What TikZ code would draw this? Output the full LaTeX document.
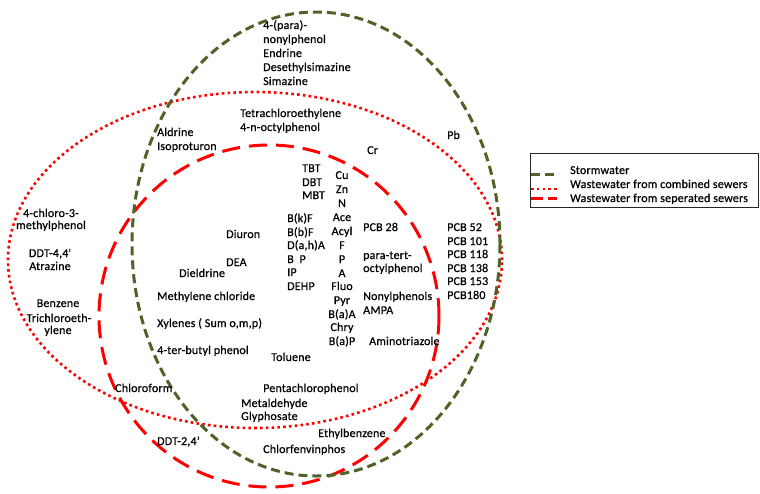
\documentclass[tikz,border=0pt]{standalone}
\usepackage{fontspec}
\setmainfont{Carlito}
\newfontfamily\lblfont{Carlito}[FakeBold=0.7,LetterSpace=1.5]
\definecolor{storm}{HTML}{4F6228}
\definecolor{wred}{HTML}{FF0000}
\begin{document}
\begin{tikzpicture}[x=1pt,y=-1pt,
  lbl/.style={anchor=base west,inner sep=0pt,font=\lblfont\fontsize{12}{13}\selectfont},
  clbl/.style={anchor=base,inner sep=0pt,font=\lblfont\fontsize{12}{13}\selectfont},
  stormline/.style={draw=storm,line width=3pt,dash pattern=on 9pt off 5pt},
  combline/.style={draw=wred,line width=2.6pt,dash pattern=on 2.6pt off 3.2pt},
  sepline/.style={draw=wred,line width=3pt,dash pattern=on 18pt off 9pt}]
\useasboundingbox (0,0) rectangle (760,493);
% sets
\draw[combline] (255,260) ellipse [x radius=247pt, y radius=168pt];
\draw[sepline] (269,316) ellipse [x radius=170pt, y radius=171pt];
\draw[stormline] (316,244) ellipse [x radius=184pt, y radius=232pt];
% left-aligned labels (x, y = line centre)
\foreach \n/\x/\y/\t in {
  a1/263/25/4-(para)-, a2/263/39/nonylphenol, a3/263/53/Endrine, a4/263/67/Desethylsimazine, a5/263/81/Simazine,
  b1/240/113/Tetrachloroethylene, b2/240/127/4-n-octylphenol,
  c1/157/132/Aldrine, c2/157/146/Isoproturon,
  pb/447/135/Pb, cr/367/150/Cr,
  t1/302/168/TBT, t2/302/182/DBT, t3/302/195/MBT,
  k1/287/218/B(k)F, k2/287/232/B(b)F, k3/287/245/{D(a,h)A}, k4/287/259/B\ \ P, k5/287/272/IP, k6/287/286/DEHP,
  di/226/234/Diuron, de/226/262/DEA, dl/179/273/Dieldrine,
  me/157/296/Methylene chloride, xy/157/323/{Xylenes ( Sum o,m,p)}, tb/157/350/4-ter-butyl phenol,
  to/271/357/Toluene,
  p28/363/227/PCB 28, pt1/363/255/para-tert-, pt2/363/268/octylphenol,
  np/363/296/Nonylphenols, am/363/310/AMPA, at/369/341/Aminotriazole,
  q1/447/227/PCB 52, q2/447/241/PCB 101, q3/447/254/PCB 118, q4/447/268/PCB 138, q5/447/281/PCB 153, q6/447/295/PCB180,
  cf/115/388/Chloroform, pc/263/388/Pentachlorophenol,
  md/241/403/Metaldehyde, gl/241/416/Glyphosate,
  eb/318/433/Ethylbenzene, dd/157/441/{DDT-2,4’}, cv/263/449/Chlorfenvinphos}
  \node[lbl] (\n) at (\x,\y+4) {\t};
% centred labels
\foreach \n/\x/\y/\t in {
  m1/342/175/Cu, m2/342/189/Zn, m3/342/203/N, m4/342/217/Ace, m5/342/231/Acyl, m6/342/245/F, m7/342/259/P,
  m8/342/273/A, m9/342/286/Fluo, m10/342/300/Pyr, m11/342/314/B(a)A, m12/342/327/Chry, m13/342/341/B(a)P,
  l1/51/213/4-chloro-3-, l2/51/225/methylphenol, l3/50/253/{DDT-4,4\textquotesingle}, l4/50/266/Atrazine,
  l5/58/303/Benzene, l6/59/318/Trichloroeth-, l7/58/330/ylene}
  \node[clbl] (\n) at (\x,\y+4) {\t};
% legend
\node[draw=black!85,line width=1.2pt,minimum width=228pt,minimum height=54pt,anchor=north west,inner sep=0pt] (leg) at (530,153) {};
\coordinate (s1) at ([yshift=-21pt]leg.north west);
\coordinate (s2) at ([yshift=-36pt]leg.north west);
\coordinate (s3) at ([yshift=-45pt]leg.north west);
\draw[stormline] ([xshift=1pt]s1) -- ++(28,0);
\draw[combline] ([xshift=1pt]s2) -- ++(28,0);
\draw[sepline,dash pattern=on 12pt off 5pt on 9pt off 20pt] ([xshift=1pt]s3) -- ++(28,0);
\node[lbl] (g1) at (570,174) {Stormwater};
\node[lbl] (g2) at (570,188) {Wastewater from combined sewers};
\node[lbl] (g3) at (570,202) {Wastewater from seperated sewers};
\end{tikzpicture}
\end{document}
